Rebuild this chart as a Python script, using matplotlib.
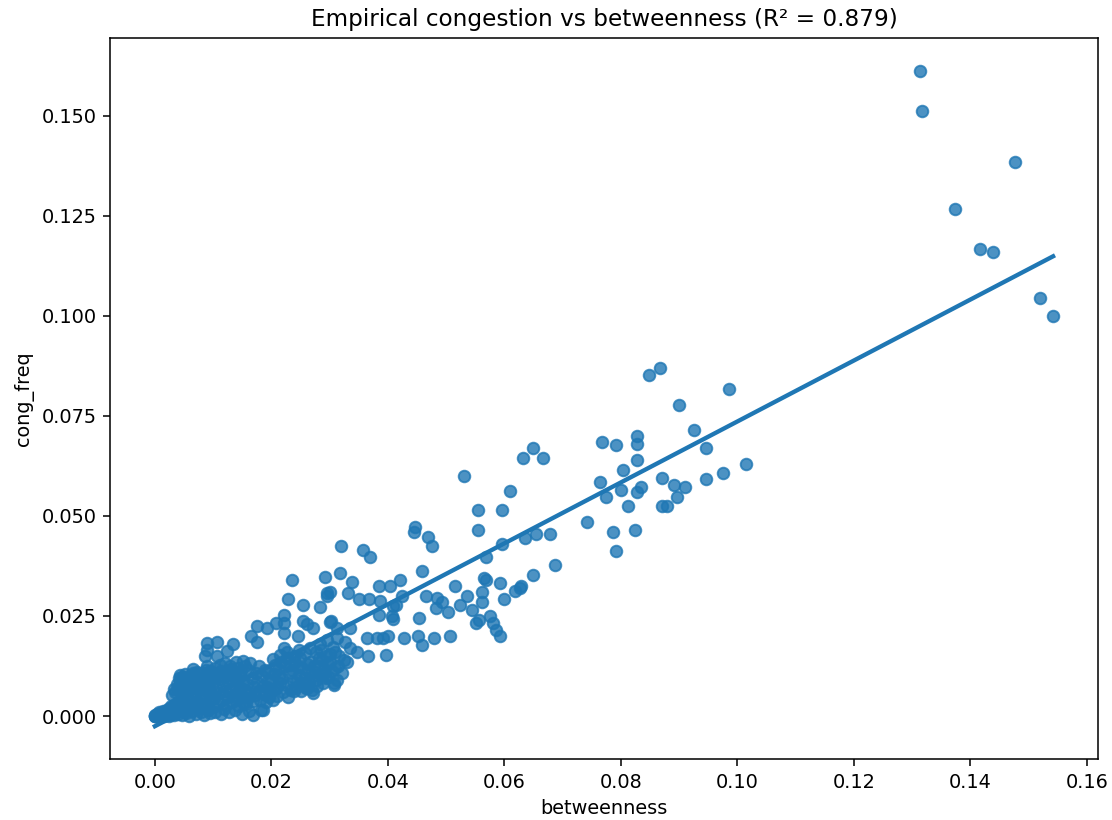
import numpy as np
import matplotlib

matplotlib.use("Agg")
import matplotlib.pyplot as plt

# (betweenness, cong_freq) per node, grouped by region of the scatter

# low-betweenness nodes packed near the origin
dense_pts = [
    (0.0000, 0.0000), (0.0001, 0.0000), (0.0002, 0.0001), (0.0003, 0.0000), (0.0004, 0.0002),
    (0.0005, 0.0000), (0.0006, 0.0003), (0.0008, 0.0001), (0.0009, 0.0005), (0.0010, 0.0000),
    (0.0012, 0.0002), (0.0013, 0.0008), (0.0015, 0.0004), (0.0016, 0.0000), (0.0018, 0.0012),
    (0.0019, 0.0003), (0.0021, 0.0006), (0.0022, 0.0018), (0.0024, 0.0001), (0.0025, 0.0010),
    (0.0027, 0.0004), (0.0028, 0.0024), (0.0030, 0.0007), (0.0031, 0.0015), (0.0033, 0.0002),
    (0.0034, 0.0030), (0.0036, 0.0009), (0.0037, 0.0019), (0.0039, 0.0005), (0.0040, 0.0036),
    (0.0000, 0.0001), (0.0001, 0.0002), (0.0002, 0.0000), (0.0003, 0.0004), (0.0004, 0.0000),
    (0.0005, 0.0006), (0.0007, 0.0000), (0.0007, 0.0010), (0.0009, 0.0002), (0.0011, 0.0005),
    (0.0012, 0.0000), (0.0014, 0.0013), (0.0017, 0.0008), (0.0020, 0.0002), (0.0023, 0.0012),
    (0.0026, 0.0020), (0.0029, 0.0013), (0.0032, 0.0026), (0.0035, 0.0014), (0.0038, 0.0028),
    (0.0041, 0.0012), (0.0042, 0.0094), (0.0043, 0.0103), (0.0044, 0.0026), (0.0045, 0.0058),
    (0.0046, 0.0003), (0.0047, 0.0042), (0.0048, 0.0071), (0.0050, 0.0016), (0.0051, 0.0033),
    (0.0052, 0.0085), (0.0053, 0.0008), (0.0055, 0.0050), (0.0056, 0.0022), (0.0058, 0.0064),
    (0.0059, 0.0001), (0.0060, 0.0038), (0.0062, 0.0078), (0.0063, 0.0013), (0.0065, 0.0118),
    (0.0066, 0.0046), (0.0067, 0.0027), (0.0069, 0.0060), (0.0070, 0.0005), (0.0072, 0.0089),
    (0.0073, 0.0035), (0.0074, 0.0019), (0.0076, 0.0068), (0.0077, 0.0042), (0.0079, 0.0009),
    (0.0080, 0.0055), (0.0082, 0.0025), (0.0083, 0.0080), (0.0085, 0.0003), (0.0086, 0.0150),
    (0.0087, 0.0048), (0.0088, 0.0031), (0.0089, 0.0182), (0.0089, 0.0165), (0.0089, 0.0124),
    (0.0090, 0.0066), (0.0091, 0.0014), (0.0092, 0.0103), (0.0093, 0.0074), (0.0094, 0.0040),
    (0.0095, 0.0007), (0.0096, 0.0058), (0.0098, 0.0098), (0.0099, 0.0022), (0.0100, 0.0086),
    (0.0102, 0.0045), (0.0103, 0.0011), (0.0105, 0.0069), (0.0106, 0.0151), (0.0107, 0.0186),
    (0.0108, 0.0032), (0.0110, 0.0057), (0.0112, 0.0092), (0.0113, 0.0004), (0.0115, 0.0039),
    (0.0117, 0.0075), (0.0118, 0.0018), (0.0120, 0.0062), (0.0122, 0.0028), (0.0124, 0.0163),
    (0.0125, 0.0084), (0.0126, 0.0047), (0.0128, 0.0009), (0.0129, 0.0124), (0.0130, 0.0066),
    (0.0132, 0.0103), (0.0133, 0.0035), (0.0134, 0.0179), (0.0135, 0.0053), (0.0137, 0.0078),
    (0.0138, 0.0015), (0.0140, 0.0098), (0.0141, 0.0043), (0.0143, 0.0060), (0.0144, 0.0025),
    (0.0146, 0.0103), (0.0147, 0.0071), (0.0149, 0.0006), (0.0150, 0.0050), (0.0152, 0.0088),
    (0.0153, 0.0033), (0.0155, 0.0064), (0.0156, 0.0029), (0.0158, 0.0080), (0.0160, 0.0045),
    (0.0161, 0.0012), (0.0163, 0.0058), (0.0165, 0.0199), (0.0166, 0.0094), (0.0168, 0.0037),
    (0.0169, 0.0003), (0.0170, 0.0072), (0.0172, 0.0052), (0.0173, 0.0108), (0.0175, 0.0226),
    (0.0175, 0.0186), (0.0176, 0.0085), (0.0178, 0.0126), (0.0179, 0.0063), (0.0180, 0.0040),
    (0.0182, 0.0015), (0.0184, 0.0100), (0.0185, 0.0076), (0.0186, 0.0015), (0.0187, 0.0054),
    (0.0189, 0.0115), (0.0190, 0.0034), (0.0192, 0.0219), (0.0192, 0.0111), (0.0192, 0.0073),
    (0.0194, 0.0088), (0.0196, 0.0047), (0.0198, 0.0062), (0.0200, 0.0090), (0.0202, 0.0040),
    (0.0204, 0.0105), (0.0206, 0.0128), (0.0207, 0.0068), (0.0208, 0.0232), (0.0209, 0.0073),
    (0.0210, 0.0050), (0.0212, 0.0118), (0.0214, 0.0082), (0.0216, 0.0135), (0.0218, 0.0095),
    (0.0220, 0.0060), (0.0221, 0.0253), (0.0221, 0.0171), (0.0222, 0.0232), (0.0222, 0.0207),
    (0.0224, 0.0124), (0.0225, 0.0078), (0.0227, 0.0146), (0.0229, 0.0292), (0.0229, 0.0048),
    (0.0231, 0.0108), (0.0233, 0.0066), (0.0235, 0.0339), (0.0235, 0.0115), (0.0237, 0.0088),
    (0.0239, 0.0062), (0.0241, 0.0135), (0.0243, 0.0073), (0.0244, 0.0090), (0.0246, 0.0201),
    (0.0248, 0.0102), (0.0249, 0.0144), (0.0250, 0.0063), (0.0252, 0.0120), (0.0254, 0.0083),
    (0.0255, 0.0278), (0.0255, 0.0238), (0.0257, 0.0096), (0.0259, 0.0070), (0.0261, 0.0230),
    (0.0261, 0.0069), (0.0263, 0.0112), (0.0265, 0.0086), (0.0267, 0.0136), (0.0269, 0.0100),
    (0.0270, 0.0065), (0.0272, 0.0219), (0.0272, 0.0057), (0.0274, 0.0125), (0.0275, 0.0111),
    (0.0277, 0.0090), (0.0279, 0.0074), (0.0281, 0.0145), (0.0283, 0.0272), (0.0284, 0.0179),
    (0.0285, 0.0104), (0.0287, 0.0140), (0.0289, 0.0082), (0.0291, 0.0118), (0.0292, 0.0347),
    (0.0293, 0.0096), (0.0295, 0.0307), (0.0295, 0.0190), (0.0296, 0.0299), (0.0297, 0.0130),
    (0.0298, 0.0098), (0.0300, 0.0155), (0.0301, 0.0136), (0.0301, 0.0236), (0.0301, 0.0311),
    (0.0302, 0.0238), (0.0304, 0.0112), (0.0307, 0.0078), (0.0307, 0.0082), (0.0310, 0.0161),
    (0.0312, 0.0194), (0.0312, 0.0090), (0.0313, 0.0219), (0.0315, 0.0125), (0.0318, 0.0358),
    (0.0320, 0.0426), (0.0321, 0.0107), (0.0327, 0.0186), (0.0330, 0.0136), (0.0331, 0.0307),
    (0.0335, 0.0169), (0.0335, 0.0219), (0.0339, 0.0334), (0.0347, 0.0161),
    (0.0203, 0.0142), (0.0215, 0.0152), (0.0226, 0.0160), (0.0238, 0.0150), (0.0247, 0.0165),
    (0.0258, 0.0158), (0.0266, 0.0170), (0.0276, 0.0160), (0.0286, 0.0165), (0.0294, 0.0150),
    (0.0306, 0.0172), (0.0316, 0.0150), (0.0324, 0.0140), (0.0280, 0.0125), (0.0262, 0.0130),
    (0.0245, 0.0122), (0.0232, 0.0128), (0.0213, 0.0100), (0.0290, 0.0108), (0.0310, 0.0120),
    (0.0030, 0.0052), (0.0033, 0.0068), (0.0035, 0.0061), (0.0038, 0.0080), (0.0040, 0.0070),
    (0.0043, 0.0088), (0.0044, 0.0080), (0.0047, 0.0097), (0.0049, 0.0062), (0.0051, 0.0105),
    (0.0054, 0.0090), (0.0057, 0.0075), (0.0058, 0.0100), (0.0061, 0.0098), (0.0064, 0.0085),
    (0.0066, 0.0108), (0.0068, 0.0102), (0.0071, 0.0072), (0.0073, 0.0110), (0.0075, 0.0094),
    (0.0078, 0.0083), (0.0081, 0.0107), (0.0084, 0.0092), (0.0087, 0.0115), (0.0091, 0.0088),
    (0.0094, 0.0112), (0.0097, 0.0110), (0.0101, 0.0100), (0.0104, 0.0120), (0.0109, 0.0105),
    (0.0111, 0.0128), (0.0114, 0.0113), (0.0119, 0.0098), (0.0121, 0.0132), (0.0123, 0.0110),
    (0.0127, 0.0095), (0.0131, 0.0117), (0.0136, 0.0108), (0.0139, 0.0135), (0.0142, 0.0120),
    (0.0148, 0.0112), (0.0151, 0.0138), (0.0154, 0.0125), (0.0159, 0.0115), (0.0164, 0.0132),
]

# mid-range betweenness
mid_pts = [
    (0.0555, 0.0514), (0.0596, 0.0514), (0.0555, 0.0464), (0.0447, 0.0473), (0.0444, 0.0459),
    (0.0469, 0.0447), (0.0476, 0.0424), (0.0358, 0.0414), (0.0369, 0.0397), (0.0596, 0.0431),
    (0.0636, 0.0445), (0.0569, 0.0397), (0.0459, 0.0363), (0.0385, 0.0324), (0.0403, 0.0324),
    (0.0420, 0.0339), (0.0565, 0.0345), (0.0569, 0.0339), (0.0592, 0.0332), (0.0515, 0.0324),
    (0.0618, 0.0313), (0.0626, 0.0321), (0.0350, 0.0292), (0.0367, 0.0292), (0.0387, 0.0288),
    (0.0424, 0.0299), (0.0414, 0.0278), (0.0408, 0.0276), (0.0466, 0.0299), (0.0484, 0.0295),
    (0.0493, 0.0286), (0.0483, 0.0270), (0.0503, 0.0260), (0.0523, 0.0278), (0.0536, 0.0301),
    (0.0562, 0.0309), (0.0561, 0.0286), (0.0599, 0.0292), (0.0544, 0.0266), (0.0384, 0.0253),
    (0.0407, 0.0249), (0.0408, 0.0242), (0.0454, 0.0246), (0.0552, 0.0232), (0.0557, 0.0241),
    (0.0575, 0.0251), (0.0580, 0.0232), (0.0586, 0.0215), (0.0593, 0.0200), (0.0364, 0.0194),
    (0.0381, 0.0194), (0.0391, 0.0194), (0.0401, 0.0200), (0.0427, 0.0194), (0.0451, 0.0200),
    (0.0459, 0.0178), (0.0480, 0.0194), (0.0507, 0.0200), (0.0366, 0.0149), (0.0396, 0.0153),
    (0.0530, 0.0600), (0.0610, 0.0562), (0.0632, 0.0645), (0.0649, 0.0669), (0.0667, 0.0645),
    (0.0655, 0.0454), (0.0678, 0.0454), (0.0687, 0.0377), (0.0649, 0.0352), (0.0628, 0.0324),
]

# upper-range betweenness
upper_pts = [
    (0.0848, 0.0853), (0.0868, 0.0871), (0.0986, 0.0817), (0.0900, 0.0778), (0.0926, 0.0714),
    (0.0768, 0.0685), (0.0792, 0.0678), (0.0827, 0.0701), (0.0827, 0.0679), (0.0946, 0.0670),
    (0.0827, 0.0639), (0.0804, 0.0615), (0.0765, 0.0585), (0.1015, 0.0631), (0.0976, 0.0607),
    (0.0946, 0.0593), (0.0870, 0.0594), (0.0892, 0.0577), (0.0910, 0.0572), (0.0834, 0.0572),
    (0.0828, 0.0560), (0.0801, 0.0564), (0.0775, 0.0547), (0.0897, 0.0547), (0.0812, 0.0525),
    (0.0870, 0.0525), (0.0879, 0.0525), (0.0742, 0.0486), (0.0786, 0.0460), (0.0824, 0.0464),
    (0.0792, 0.0413),
]

# hub nodes
hub_pts = [
    (0.1314, 0.1613), (0.1317, 0.1513), (0.1476, 0.1385), (0.1373, 0.1267),
    (0.1417, 0.1167), (0.1439, 0.1160), (0.1520, 0.1046), (0.1542, 0.0999),
]

R2_TEXT = "0.879"

pts = np.array(dense_pts + mid_pts + upper_pts + hub_pts)
betweenness = pts[:, 0]
cong_freq = pts[:, 1]

fig = plt.figure(figsize=(1112 / 139, 820 / 139), dpi=139)
ax = fig.add_subplot(1, 1, 1)
fig.subplots_adjust(left=0.0989, right=0.9874, bottom=0.0744, top=0.9537)

ax.scatter(betweenness, cong_freq, color="C0", alpha=0.8)

# least-squares fit over the observed range
slope, intercept = np.polyfit(betweenness, cong_freq, 1)
xs = np.linspace(betweenness.min(), betweenness.max(), 100)
ax.plot(xs, intercept + slope * xs, color="C0", linewidth=2.25)

ax.set_xlabel("betweenness")
ax.set_ylabel("cong_freq")
ax.set_title(f"Empirical congestion vs betweenness (R² = {R2_TEXT})")

fig.savefig("out.png", dpi=139)
